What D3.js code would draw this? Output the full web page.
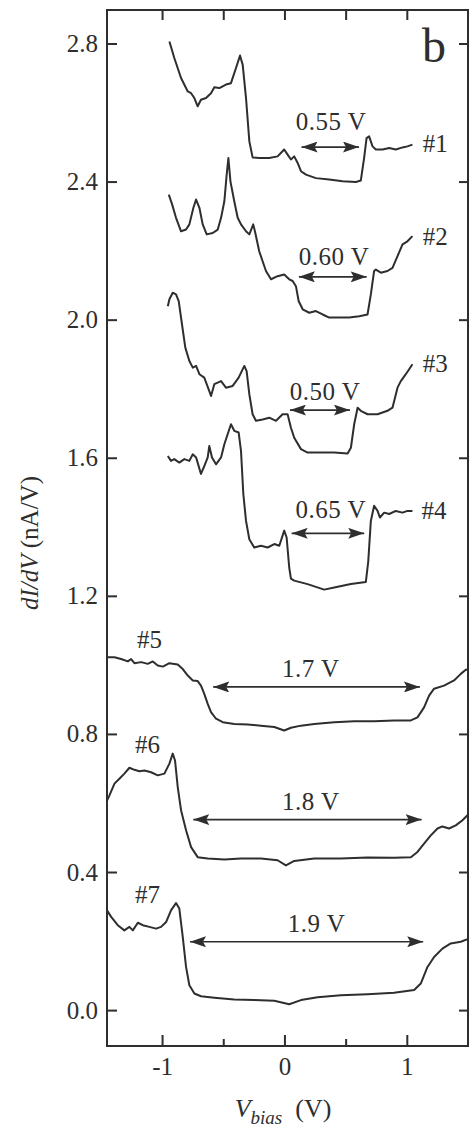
<!DOCTYPE html>
<html>
<head>
<meta charset="utf-8">
<script src="https://cdnjs.cloudflare.com/ajax/libs/d3/7.8.5/d3.min.js"></script>
<style>
  body { margin: 0; background: #fff; }
  text { font-family: "Liberation Serif", "Times New Roman", serif; fill: #2e2e2e; }
</style>
</head>
<body>
<div id="chart"></div>
<script>
// each curve: [Vbias (V), dI/dV (nA/V)]
var curve1 = [[-0.940,2.806],[-0.900,2.758],[-0.845,2.700],[-0.790,2.661],[-0.763,2.656],[-0.736,2.642],[-0.709,2.618],[-0.682,2.637],[-0.641,2.642],[-0.600,2.656],[-0.573,2.673],[-0.532,2.671],[-0.478,2.681],[-0.437,2.685],[-0.396,2.729],[-0.363,2.765],[-0.341,2.738],[-0.314,2.642],[-0.287,2.517],[-0.260,2.470],[-0.206,2.468],[-0.124,2.468],[-0.056,2.473],[-0.002,2.493],[0.026,2.478],[0.053,2.464],[0.080,2.473],[0.108,2.454],[0.135,2.430],[0.176,2.420],[0.257,2.410],[0.366,2.406],[0.475,2.401],[0.584,2.399],[0.624,2.403],[0.651,2.468],[0.671,2.526],[0.692,2.531],[0.720,2.502],[0.747,2.493],[0.802,2.493],[0.856,2.497],[0.910,2.493],[0.965,2.499],[1.005,2.502],[1.046,2.507]];
var curve2 = [[-0.945,2.362],[-0.918,2.334],[-0.886,2.295],[-0.845,2.256],[-0.804,2.261],[-0.777,2.276],[-0.744,2.324],[-0.722,2.348],[-0.695,2.324],[-0.668,2.276],[-0.635,2.247],[-0.586,2.251],[-0.545,2.261],[-0.518,2.295],[-0.491,2.343],[-0.472,2.420],[-0.458,2.468],[-0.441,2.400],[-0.410,2.343],[-0.382,2.295],[-0.355,2.276],[-0.314,2.256],[-0.287,2.247],[-0.255,2.276],[-0.238,2.251],[-0.206,2.198],[-0.151,2.141],[-0.110,2.117],[-0.056,2.126],[-0.002,2.131],[0.039,2.117],[0.067,2.112],[0.094,2.097],[0.116,2.054],[0.149,2.030],[0.203,2.020],[0.257,2.025],[0.312,2.015],[0.366,2.006],[0.448,2.006],[0.529,2.006],[0.611,2.010],[0.679,2.015],[0.706,2.073],[0.733,2.141],[0.747,2.145],[0.788,2.136],[0.842,2.141],[0.883,2.150],[0.924,2.184],[0.965,2.218],[1.005,2.227],[1.046,2.242]];
var curve3 = [[-0.953,2.039],[-0.940,2.059],[-0.913,2.078],[-0.886,2.073],[-0.864,2.054],[-0.837,1.986],[-0.810,1.919],[-0.777,1.880],[-0.749,1.861],[-0.722,1.866],[-0.695,1.842],[-0.655,1.832],[-0.614,1.793],[-0.600,1.779],[-0.573,1.813],[-0.518,1.822],[-0.478,1.803],[-0.423,1.808],[-0.374,1.832],[-0.328,1.866],[-0.309,1.851],[-0.287,1.784],[-0.260,1.726],[-0.233,1.707],[-0.178,1.711],[-0.124,1.716],[-0.069,1.707],[-0.015,1.726],[0.026,1.726],[0.053,1.687],[0.080,1.658],[0.135,1.625],[0.189,1.615],[0.298,1.615],[0.407,1.615],[0.516,1.612],[0.543,1.629],[0.570,1.697],[0.598,1.745],[0.624,1.736],[0.679,1.726],[0.761,1.726],[0.842,1.736],[0.883,1.745],[0.924,1.803],[0.951,1.822],[0.992,1.842],[1.046,1.871]];
var curve4 = [[-0.953,1.605],[-0.927,1.591],[-0.900,1.596],[-0.859,1.586],[-0.818,1.596],[-0.777,1.591],[-0.749,1.610],[-0.722,1.601],[-0.682,1.553],[-0.655,1.576],[-0.627,1.601],[-0.614,1.634],[-0.592,1.601],[-0.559,1.581],[-0.518,1.601],[-0.491,1.639],[-0.464,1.668],[-0.437,1.697],[-0.410,1.678],[-0.374,1.673],[-0.355,1.620],[-0.336,1.495],[-0.314,1.417],[-0.287,1.364],[-0.247,1.340],[-0.192,1.345],[-0.137,1.340],[-0.083,1.350],[-0.042,1.345],[-0.002,1.389],[0.018,1.369],[0.039,1.282],[0.053,1.250],[0.080,1.244],[0.189,1.234],[0.325,1.218],[0.407,1.224],[0.543,1.234],[0.665,1.240],[0.685,1.300],[0.706,1.417],[0.733,1.461],[0.761,1.446],[0.780,1.427],[0.815,1.441],[0.856,1.437],[0.910,1.446],[0.965,1.441],[1.005,1.446],[1.046,1.446]];
var curve5 = [[-1.45,1.022],[-1.389,1.022],[-1.335,1.017],[-1.280,1.010],[-1.253,1.017],[-1.226,1.005],[-1.171,1.008],[-1.117,1.003],[-1.076,1.010],[-1.035,0.998],[-0.994,0.995],[-0.940,1.005],[-0.872,1.001],[-0.831,0.988],[-0.790,0.969],[-0.749,0.955],[-0.709,0.953],[-0.682,0.940],[-0.655,0.916],[-0.627,0.887],[-0.600,0.863],[-0.559,0.844],[-0.504,0.834],[-0.410,0.829],[-0.300,0.827],[-0.192,0.824],[-0.083,0.820],[-0.002,0.810],[0.053,0.818],[0.135,0.824],[0.243,0.829],[0.407,0.834],[0.570,0.837],[0.733,0.837],[0.896,0.839],[1.033,0.839],[1.087,0.848],[1.141,0.877],[1.182,0.911],[1.223,0.931],[1.304,0.940],[1.386,0.955],[1.441,0.974],[1.482,0.986],[1.522,0.988]];
var curve6 = [[-1.45,0.607],[-1.430,0.622],[-1.389,0.656],[-1.349,0.670],[-1.308,0.685],[-1.267,0.702],[-1.226,0.696],[-1.185,0.692],[-1.144,0.694],[-1.090,0.689],[-1.035,0.680],[-0.981,0.685],[-0.940,0.714],[-0.913,0.743],[-0.894,0.723],[-0.872,0.646],[-0.845,0.579],[-0.804,0.521],[-0.763,0.472],[-0.709,0.443],[-0.627,0.439],[-0.491,0.436],[-0.355,0.439],[-0.192,0.439],[-0.056,0.434],[0.012,0.419],[0.080,0.432],[0.243,0.439],[0.461,0.439],[0.679,0.442],[0.896,0.441],[1.033,0.443],[1.087,0.458],[1.141,0.482],[1.196,0.506],[1.251,0.526],[1.291,0.532],[1.345,0.526],[1.400,0.535],[1.455,0.550],[1.509,0.569]];
var curve7 = [[-1.45,0.289],[-1.416,0.270],[-1.362,0.246],[-1.308,0.231],[-1.267,0.241],[-1.239,0.231],[-1.198,0.253],[-1.158,0.246],[-1.104,0.241],[-1.049,0.236],[-1.008,0.241],[-0.967,0.255],[-0.927,0.289],[-0.886,0.310],[-0.859,0.294],[-0.831,0.212],[-0.804,0.125],[-0.777,0.072],[-0.736,0.048],[-0.682,0.040],[-0.573,0.036],[-0.410,0.031],[-0.247,0.029],[-0.083,0.027],[0.039,0.017],[0.135,0.029],[0.271,0.037],[0.461,0.043],[0.679,0.046],[0.896,0.050],[1.060,0.058],[1.114,0.077],[1.169,0.125],[1.223,0.154],[1.291,0.178],[1.359,0.193],[1.441,0.198],[1.509,0.207]];
var curves = [curve1, curve2, curve3, curve4, curve5, curve6, curve7];

// curve names and where they sit (data units)
var curveNames = ["#1", "#2", "#3", "#4", "#5", "#6", "#7"];
var nameV = [1.13, 1.13, 1.13, 1.12, -1.205, -1.222, -1.222];
var nameG = [2.485, 2.215, 1.848, 1.422, 1.048, 0.744, 0.309];

// gap widths: double arrows and their labels
var gapLabels = ["0.55 V", "0.60 V", "0.50 V", "0.65 V", "1.7 V", "1.8 V", "1.9 V"];
var gapFrom = [0.14, 0.118, 0.045, 0.059, -0.582, -0.745, -0.772];
var gapTo = [0.609, 0.672, 0.535, 0.652, 1.107, 1.121, 1.134];
var gapLevel = [2.500, 2.124, 1.738, 1.381, 0.936, 0.552, 0.198];
var gapTextV = [0.38, 0.406, 0.331, 0.378, 0.215, 0.215, 0.263];
var gapTextG = [2.548, 2.158, 1.767, 1.425, 0.965, 0.579, 0.227];

var yTicks = [0.0, 0.4, 0.8, 1.2, 1.6, 2.0, 2.4, 2.8];
var xTicks = [-1, 0, 1];
var xMinor = [-0.5, 0.5];

var margin = {top: 10, right: 3, bottom: 82, left: 107},
    width = 471 - margin.left - margin.right,
    height = 1128 - margin.top - margin.bottom;

var ink = "#2e2e2e";

var svg = d3.select("#chart")
  .append("svg")
    .attr("width", width + margin.left + margin.right)
    .attr("height", height + margin.top + margin.bottom)
  .append("g")
    .attr("transform", "translate(" + margin.left + "," + margin.top + ")");

var x = d3.scaleLinear().domain([-1.45, 1.5]).range([0, width]);
var y = d3.scaleLinear().domain([-0.104, 2.897]).range([height, 0]);

// clip curves to the frame
svg.append("clipPath").attr("id", "clip")
  .append("rect").attr("width", width).attr("height", height);

// axes, ticks pointing inward
function styleAxis(g) {
  g.select(".domain").remove();
  g.selectAll(".tick line").attr("stroke", ink).attr("stroke-width", 2);
  g.selectAll(".tick text").style("font-size", "25px").attr("fill", ink);
}

svg.append("g")
  .call(d3.axisLeft(y).tickValues(yTicks).tickSize(-10).tickPadding(9).tickFormat(d3.format(".1f")))
  .call(styleAxis);

svg.append("g")
  .attr("transform", "translate(" + width + ",0)")
  .call(d3.axisRight(y).tickValues(yTicks).tickSize(-9).tickFormat(""))
  .call(styleAxis);

svg.append("g")
  .attr("transform", "translate(0," + height + ")")
  .call(d3.axisBottom(x).tickValues(xTicks).tickSize(-11).tickPadding(11).tickFormat(function(d){ return d < 0 ? "-" + Math.abs(d) : d; }))
  .call(styleAxis);

svg.append("g")
  .attr("transform", "translate(0," + height + ")")
  .call(d3.axisBottom(x).tickValues(xMinor).tickSize(-7).tickFormat(""))
  .call(styleAxis);

svg.append("g")
  .call(d3.axisTop(x).tickValues(xTicks.concat(xMinor)).tickSize(-10).tickFormat(""))
  .call(styleAxis);

// frame
svg.append("rect")
  .attr("width", width)
  .attr("height", height)
  .attr("fill", "none")
  .attr("stroke", ink)
  .attr("stroke-width", 2);

// the curves
var line = d3.line()
  .x(function(d) { return x(d[0]); })
  .y(function(d) { return y(d[1]); });

svg.append("g")
  .attr("clip-path", "url(#clip)")
  .selectAll("path")
  .data(curves)
  .enter()
  .append("path")
    .attr("d", line)
    .attr("fill", "none")
    .attr("stroke", ink)
    .attr("stroke-width", 2)
    .attr("stroke-linejoin", "round");

// arrow heads
var defs = svg.append("defs");
defs.append("marker")
    .attr("id", "head")
    .attr("markerUnits", "userSpaceOnUse")
    .attr("markerWidth", 17)
    .attr("markerHeight", 11)
    .attr("refX", 16)
    .attr("refY", 5.5)
    .attr("orient", "auto-start-reverse")
  .append("path")
    .attr("d", "M0,0 L16,5.5 L0,11 L3,5.5 Z")
    .attr("fill", ink);

var gaps = gapLabels.map(function(d, i) { return i; });

svg.selectAll(".gap")
  .data(gaps)
  .enter()
  .append("line")
    .attr("class", "gap")
    .attr("x1", function(i) { return x(gapFrom[i]); })
    .attr("x2", function(i) { return x(gapTo[i]); })
    .attr("y1", function(i) { return y(gapLevel[i]); })
    .attr("y2", function(i) { return y(gapLevel[i]); })
    .attr("stroke", ink)
    .attr("stroke-width", 1.7)
    .attr("marker-start", "url(#head)")
    .attr("marker-end", "url(#head)");

svg.selectAll(".gaptext")
  .data(gaps)
  .enter()
  .append("text")
    .attr("class", "gaptext")
    .attr("x", function(i) { return x(gapTextV[i]); })
    .attr("y", function(i) { return y(gapTextG[i]); })
    .style("text-anchor", "middle")
    .style("font-size", "25px")
    .style("letter-spacing", "0.5px")
    .text(function(i) { return gapLabels[i]; });

svg.selectAll(".name")
  .data(curveNames)
  .enter()
  .append("text")
    .attr("class", "name")
    .attr("x", function(d, i) { return x(nameV[i]); })
    .attr("y", function(d, i) { return y(nameG[i]); })
    .style("font-size", "25px")
    .text(function(d) { return d; });

// panel letter
svg.append("text")
  .attr("x", width - 46)
  .attr("y", 52)
  .style("font-size", "48px")
  .text("b");

// y axis label
var yLabel = svg.append("text")
  .attr("transform", "translate(" + (38 - margin.left) + "," + (543 - margin.top) + ") rotate(-90)")
  .style("text-anchor", "middle")
  .style("font-size", "25px");
yLabel.append("tspan").style("font-style", "italic").text("dI/dV");
yLabel.append("tspan").text(" (nA/V)");

// x axis label
var xLabel = svg.append("text")
  .attr("x", 283 - margin.left)
  .attr("y", 1117 - margin.top)
  .style("text-anchor", "middle")
  .style("font-size", "26px");
xLabel.append("tspan").style("font-style", "italic").text("V");
xLabel.append("tspan").style("font-style", "italic").style("font-size", "19px").attr("dy", 7).text("bias");
xLabel.append("tspan").attr("dy", -7).text("\u00a0\u00a0(V)");
</script>
</body>
</html>
